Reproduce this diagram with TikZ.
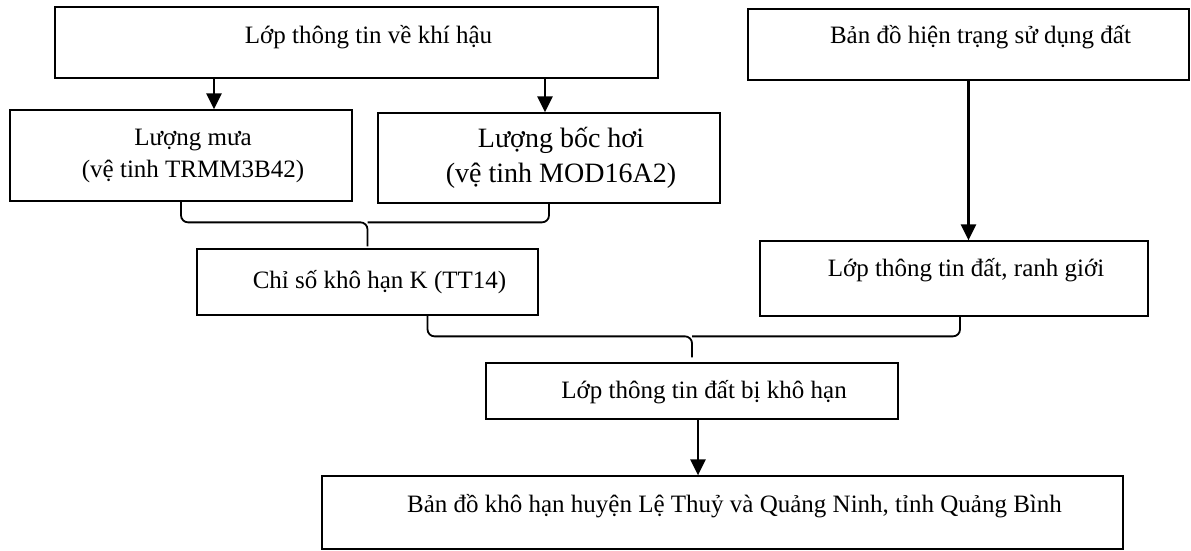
\documentclass[tikz,border=0pt]{standalone}
\usepackage{fontspec}
\setmainfont{Liberation Serif}
\usetikzlibrary{arrows.meta}
\tikzset{box/.style = {draw, line width=1.3pt, inner sep=0pt, align=center, text centered, text height=14pt, text depth=14pt}}
\tikzset{twoline/.style = {text height=, text depth=}}
\tikzset{arr/.style = {line width=2.4pt, -{Triangle[width=15pt,length=16pt]}}}
\tikzset{brc/.style = {line width=1.8pt, rounded corners=7pt}}
\newcommand{\lpad}{\hspace*{24pt}}
\begin{document}
\begin{tikzpicture}[x=1pt, y=-1pt,
  font=\fontsize{25}{32}\selectfont
]
\useasboundingbox (0,0) rectangle (1191,550);

\node[box, minimum width=603pt, minimum height=71pt, text depth=13pt] (b0) at (356.5,42.5) {\lpad Lớp thông tin về khí hậu};
\node[box, minimum width=441pt, minimum height=71pt, text depth=17pt] (b1) at (968.5,44.5) {\lpad Bản đồ hiện trạng sử dụng đất};
\node[box, twoline, minimum width=342pt, minimum height=91pt] (b2) at (181,155.5) {
  \lpad Lượng mưa\\
  \lpad (vệ tinh TRMM3B42)
};
\node[box, twoline, minimum width=342pt, minimum height=90pt, font=\fontsize{28}{35}\selectfont] (b3) at (549,158) {
  \lpad Lượng bốc hơi\\
  \lpad (vệ tinh MOD16A2)
};
\node[box, minimum width=341pt, minimum height=66pt, text depth=2pt] (b4) at (367.5,282) {\lpad Chỉ số khô hạn K (TT14)};
\node[box, minimum width=388pt, minimum height=75pt, text depth=19pt] (b5) at (954,278.5) {\lpad Lớp thông tin đất, ranh giới};
\node[box, minimum width=412pt, minimum height=56pt, text depth=0pt] (b6) at (692,391) {\lpad Lớp thông tin đất bị khô hạn};
\node[box, minimum width=801pt, minimum height=73pt] (b7) at (722.5,512.5) {\lpad Bản đồ khô hạn huyện Lệ Thuỷ và Quảng Ninh, tỉnh Quảng Bình};

\draw[arr]  ([xshift=33pt]b2.north |- b0.south) -- ([xshift=33pt]b2.north);
\draw[arr]  ([xshift=-4pt]b3.north |- b0.south) -- ([xshift=-4pt]b3.north);
\draw[arr]  (b1.south) -- (b1.south |- b5.north);
% braces joining two boxes into one
\draw[brc]  (b2.south) |- ([yshift=26pt]b4.north) -- ([yshift=2pt]b4.north);
\draw[brc]  (b3.south) |- ([yshift=26pt]b4.north);
\draw[brc]  ([xshift=60pt]b4.south) |- ([yshift=26pt]b6.north) -- ([yshift=5pt]b6.north);
\draw[brc]  ([xshift=6pt]b5.south) |- ([yshift=26pt]b6.north);
\draw[arr]  ([xshift=6pt]b6.south) -- ([xshift=6pt]b6.south |- b7.north);

\end{tikzpicture}
\end{document}
